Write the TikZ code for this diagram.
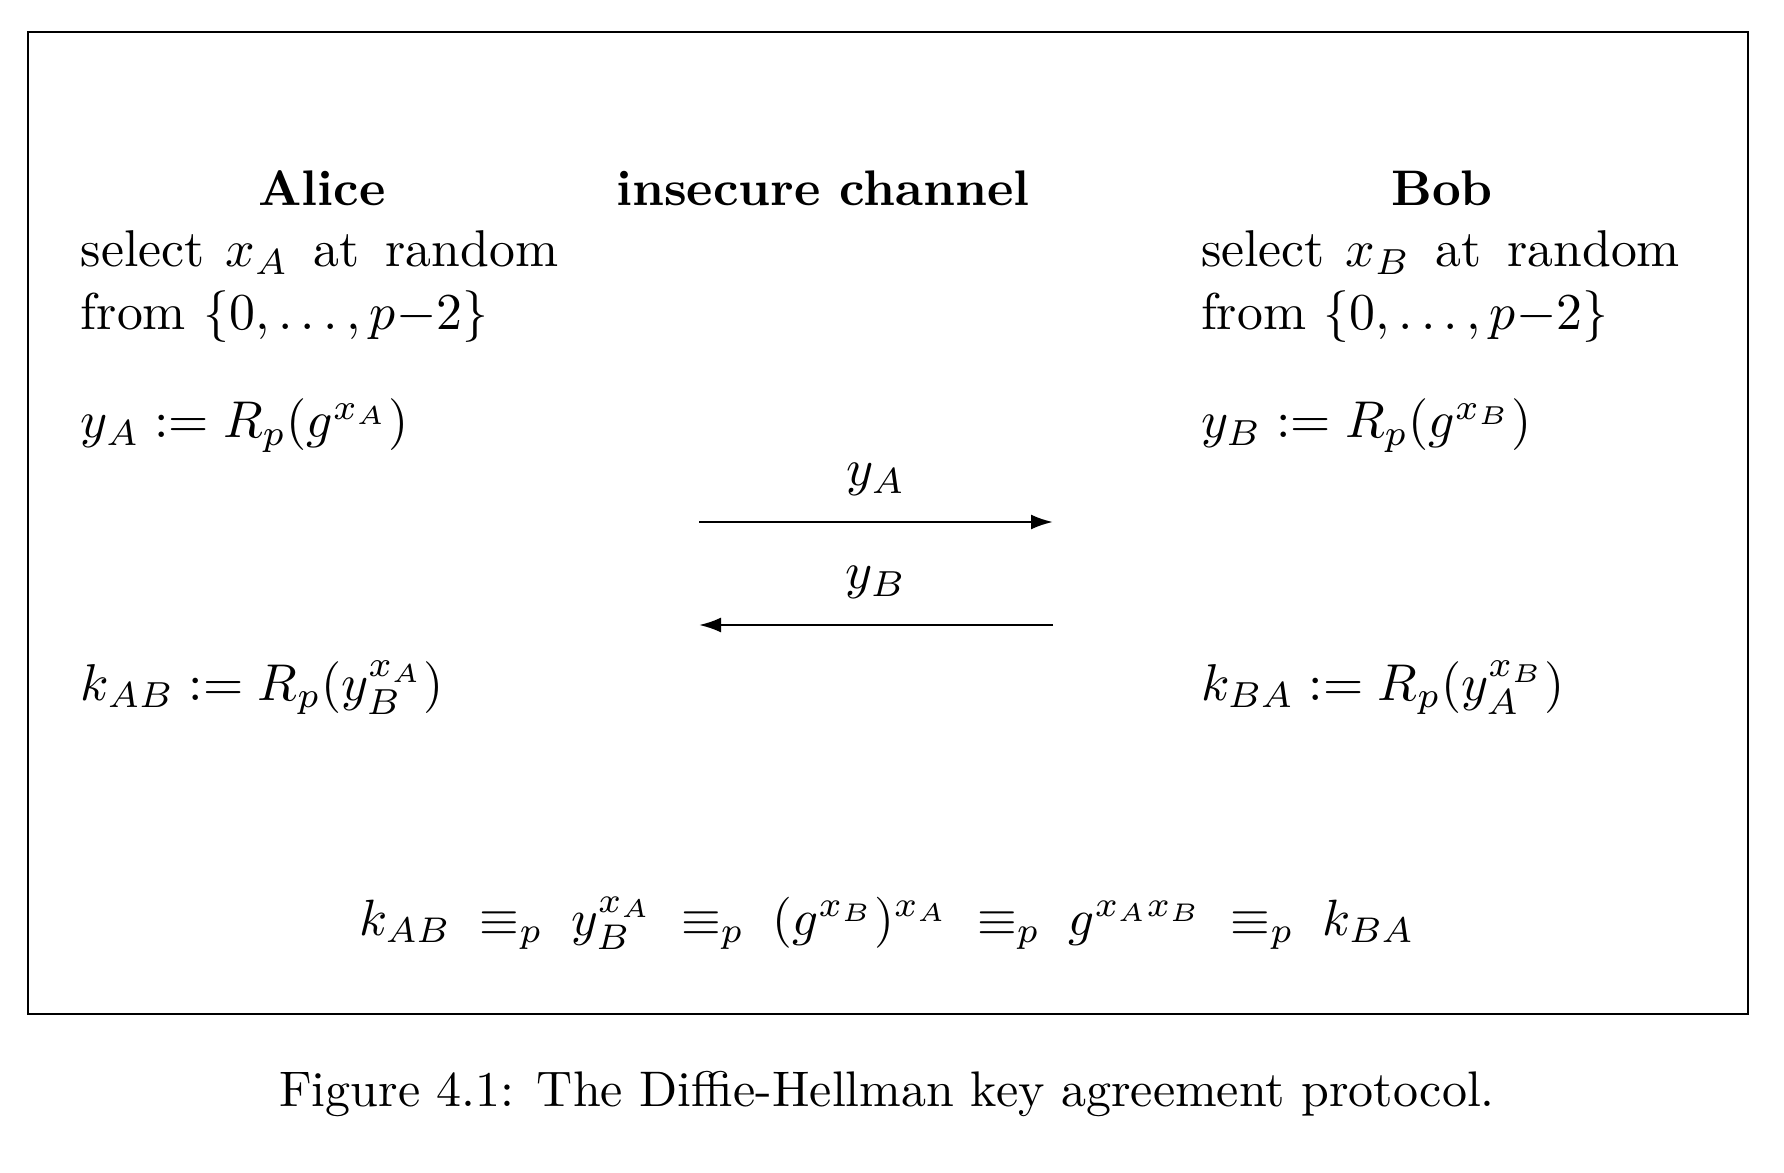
\RequirePackage{fix-cm}
\documentclass[tikz,border=0pt]{standalone}
\usetikzlibrary{arrows.meta}
\tikzset{
  every node/.style={font=\fontsize{10.35pt}{12.4pt}\selectfont},
  txt/.style={inner sep=0pt, anchor=base west},
  head/.style={inner sep=0pt, anchor=base, font=\fontsize{10pt}{12pt}\selectfont\bfseries},
  msg/.style={line width=0.5pt, -{Latex[length=4.4pt,width=3pt]}},
}
\newcommand{\pick}[1]{select\hspace{0.4em}$#1$\hspace{0.48em}at\hspace{0.5em}random}
\begin{document}
\begin{tikzpicture}[x=0.2pt,y=-0.2pt]
        \useasboundingbox (0,0) rectangle (1784,1172);
        \draw[line width=0.5pt] (28,32) rectangle (1748,1014);
        % heads
        \node[head] (alice) at (322,206) {Alice};
        \node[head] (chan) at (823,206) {insecure channel};
        \node[head] (bob) at (1442,206) {Bob};
        % Alice
        \node[txt] (a1) at (80,267) {\pick{x_A}};
        \node[txt] (a2) at (80,330) {from $\{0,\ldots,p{-}2\}$};
        \node[txt] (a3) at (80,438) {$y_A := R_p(g^{x_A})$};
        \node[txt] (a4) at (80,700) {$k_{AB} := R_p(y_B^{x_A})$};
        % Bob
        \node[txt] (b1) at (1200,267) {\pick{x_B}};
        \node[txt] (b2) at (1200,330) {from $\{0,\ldots,p{-}2\}$};
        \node[txt] (b3) at (1200,438) {$y_B := R_p(g^{x_B})$};
        \node[txt] (b4) at (1200,700) {$k_{BA} := R_p(y_A^{x_B})$};
        % channel
        \coordinate (l1) at (699,522);
        \coordinate (r1) at (1053,522);
        \coordinate (l2) at (699,625);
        \coordinate (r2) at (1053,625);
        \draw[msg] (l1) -- node[above=5pt, inner sep=0pt] (ya) {$y_A$} (r1);
        \draw[msg] (r2) -- node[above=5pt, inner sep=0pt] (yb) {$y_B$} (l2);
        % result
        \node[inner sep=0pt, anchor=base, font=\fontsize{10.2pt}{12.2pt}\selectfont] (eq) at (887,935)
          {$k_{AB} \;\equiv_p\; y_B^{x_A} \;\equiv_p\; (g^{x_B})^{x_A} \;\equiv_p\; g^{x_A x_B} \;\equiv_p\; k_{BA}$};
        \node[inner sep=0pt, anchor=base, font=\fontsize{10pt}{12pt}\selectfont] (cap) at (887,1106)
          {Figure 4.1: The Diffie-Hellman key agreement protocol.};
      \end{tikzpicture}
\end{document}
